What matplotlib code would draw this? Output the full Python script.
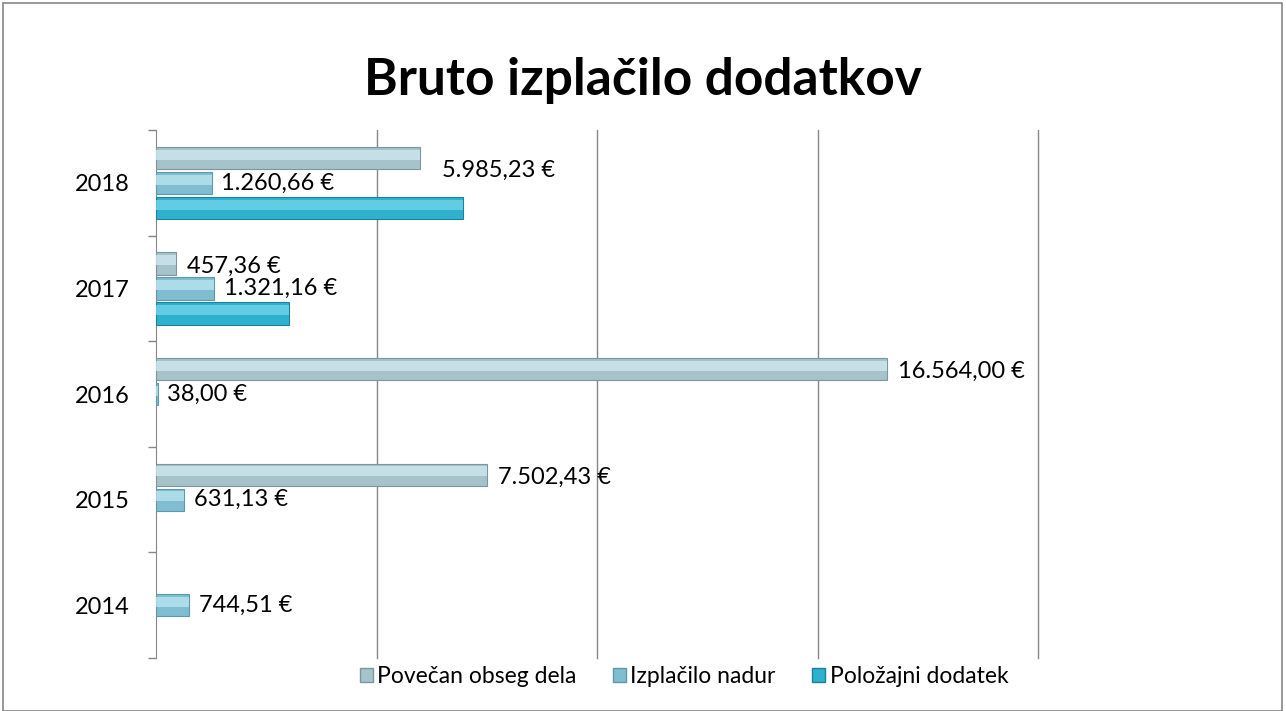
import numpy as np
import matplotlib.pyplot as plt
from matplotlib.patches import Rectangle

# Data
years = ['2014', '2015', '2016', '2017', '2018']
series_names = ['Povečan obseg dela', 'Izplačilo nadur', 'Položajni dodatek']
povecan = [0, 7502.43, 16564.00, 457.36, 5985.23]
nadure = [744.51, 631.13, 38.00, 1321.16, 1260.66]
polozajni = [0, 0, 0, 3010.00, 6950.00]
labels_povecan = ['', '7.502,43 €', '16.564,00 €', '457,36 €', '5.985,23 €']
labels_nadure = ['744,51 €', '631,13 €', '38,00 €', '1.321,16 €', '1.260,66 €']

colors = ['#a6c2cb', '#80bdd0', '#2fb1cd']
highlights = ['#cfe6ec', '#b9e4f0', '#6fd3ea']
edges = ['#7d959c', '#5f98a8', '#1d8099']

plt.rcParams['font.family'] = ['Lato', 'DejaVu Sans']

fig = plt.figure(figsize=(12.86, 7.11), dpi=100)
ax = fig.add_axes([0.1213, 0.0745, 0.686, 0.7425])

y = np.arange(len(years))
step = 0.237
h = 0.21
offsets = [step, 0, -step]
all_vals = [povecan, nadure, polozajni]

for vals, off, c, hl, ec, name in zip(all_vals, offsets, colors, highlights, edges, series_names):
    v = np.array(vals)
    keep = v > 0
    ax.barh(y[keep] + off, v[keep], height=h, color=c, edgecolor=ec, linewidth=0.8,
            label=name, zorder=3)
    # lighter strip to mimic the bevel
    ax.barh(y[keep] + off + h * 0.15, v[keep], height=h * 0.45, color=hl, linewidth=0,
            alpha=0.8, zorder=4)

# data labels
for i in range(len(years)):
    if labels_povecan[i]:
        dx, dy = (16, -9) if years[i] == '2018' else (8, -2)
        ax.annotate(labels_povecan[i], (povecan[i], y[i] + step), xytext=(dx, dy),
                    textcoords='offset points', va='center', ha='left', fontsize=17, zorder=5)
    ax.annotate(labels_nadure[i], (nadure[i], y[i]), xytext=(7, 0),
                textcoords='offset points', va='center', ha='left', fontsize=17, zorder=5)

ax.set_xlim(0, 20000)
ax.set_ylim(-0.5, 4.5)
for gx in [5000, 10000, 15000, 20000]:
    ax.axvline(gx, color='#868686', linewidth=1, zorder=0, clip_on=False)
ax.set_xticks([])

ax.set_yticks(y)
ax.set_yticklabels(years, fontsize=17)
ax.tick_params(axis='y', which='major', length=0, pad=19)
ax.set_yticks(np.arange(-0.5, 5, 1), minor=True)
ax.tick_params(axis='y', which='minor', length=6, color='#868686', width=1)

for s in ['top', 'right', 'bottom']:
    ax.spines[s].set_visible(False)
ax.spines['left'].set_color('#868686')

fig.suptitle('Bruto izplačilo dodatkov', fontsize=37, fontweight='bold', y=0.92)

handles = [Rectangle((0, 0), 1, 1, facecolor=c, edgecolor=ec) for c, ec in zip(colors, edges)]
fig.legend(handles, series_names, loc='center', bbox_to_anchor=(0.532, 0.048), ncol=3,
           frameon=False, fontsize=16.5, handlelength=0.55, handleheight=0.55,
           handletextpad=0.2, columnspacing=1.6)

fig.patches.append(Rectangle((0.002, 0.0), 0.995, 0.996, transform=fig.transFigure,
                             fill=False, edgecolor='#868686', linewidth=1.2))

fig.savefig('out.png', dpi=100)
